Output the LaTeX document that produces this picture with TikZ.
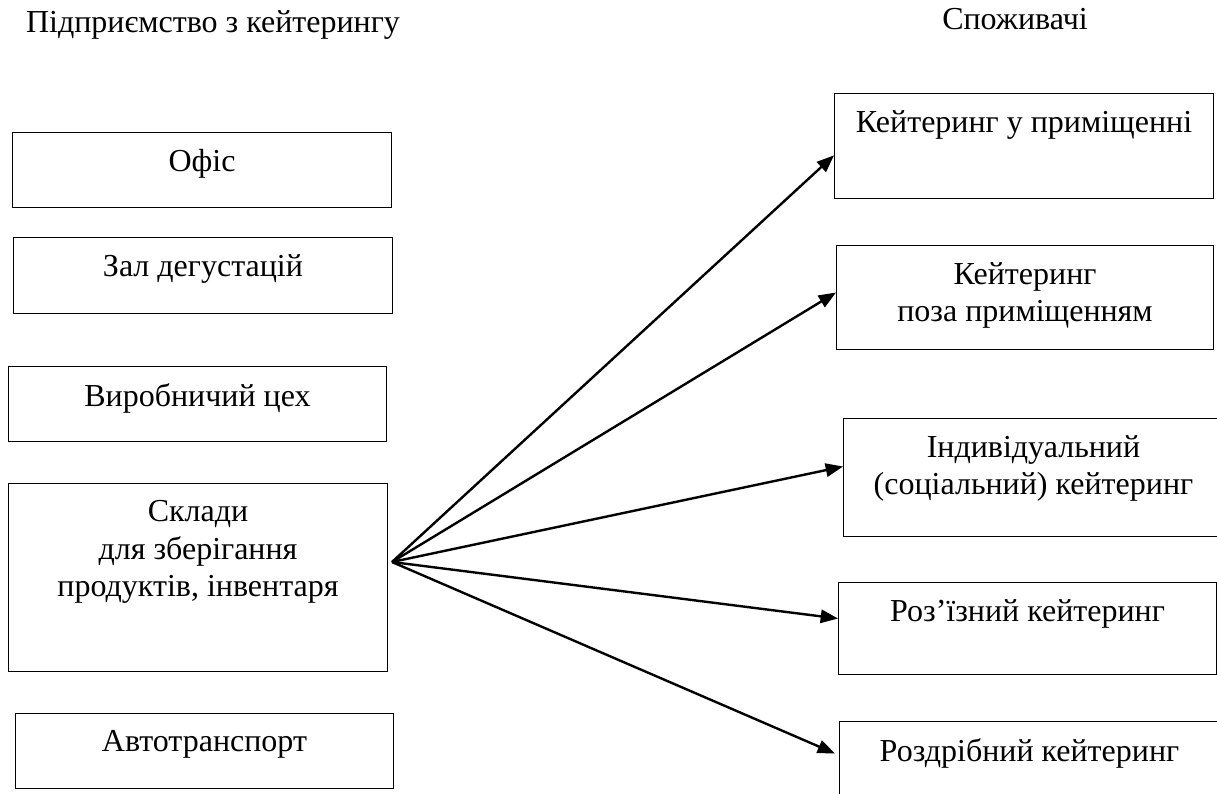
\documentclass[tikz,border=0pt]{standalone}
\usepackage{fontspec}
\setmainfont{Liberation Serif}
\usetikzlibrary{arrows.meta}
\tikzset{
	box/.style={draw, line width=0.75pt, anchor=north west, inner sep=0pt},
	lbl/.style={anchor=north, yshift=-13pt, inner sep=0pt, align=center, font=\fontsize{24}{28}\selectfont},
	title/.style={anchor=base, inner sep=0pt, font=\fontsize{24}{28}\selectfont},
	arr/.style={line width=1.8pt, -{Triangle[length=13pt,width=10pt]}}
}
\begin{document}
\begin{tikzpicture}[x=0.75pt,y=-0.75pt]
			\useasboundingbox (0,0) rectangle (1217,793);
			{\node[title] (firma) at (213,32) {Підприємство з кейтерингу};}
			{\node[title] (spozh) at (1015,29) {Споживачі};}
			% left column
			{\node[box, minimum width=284.25pt, minimum height=56.25pt, label={[lbl]north:Офіс}] (offis) at (12,132) {};}
			{\node[box, minimum width=284.25pt, minimum height=57pt, label={[lbl]north:Зал дегустацій}] (zal) at (13,237) {};}
			{\node[box, minimum width=283.5pt, minimum height=56.25pt, label={[lbl]north:Виробничий цех}] (tsekh) at (8,366) {};}
			{\node[box, minimum width=284.25pt, minimum height=141pt, label={[lbl]north:Склади\\для зберігання\\продуктів, інвентаря}] (sklady) at (8,483) {};}
			{\node[box, minimum width=283.5pt, minimum height=56.25pt, label={[lbl]north:Автотранспорт}] (avto) at (15,713) {};}
			% right column
			{\node[box, minimum width=284.25pt, minimum height=78.75pt, label={[lbl]north:Кейтеринг у приміщенні}] (vprym) at (834,93) {};}
			{\node[box, minimum width=282.75pt, minimum height=78pt, label={[lbl]north:Кейтеринг\\поза приміщенням}] (pozaprym) at (836,245) {};}
			{\node[box, minimum width=285pt, minimum height=88.5pt, label={[lbl]north:Індивідуальний\\(соціальний) кейтеринг}] (indyv) at (843,418) {};}
			{\node[box, minimum width=283.5pt, minimum height=69pt, label={[lbl]north:Роз’їзний кейтеринг}] (rozizn) at (838,582) {};}
			{\node[box, minimum width=285pt, minimum height=60pt, label={[lbl]north:Роздрібний кейтеринг}] (rozdrib) at (839,721) {};}
			% arrows
			{\coordinate (hub) at (392,562);}
			{\draw[arr] (hub) -- ([yshift=-7pt]vprym.west);}
			{\draw[arr] (hub) -- ([yshift=3.75pt]pozaprym.west);}
			{\draw[arr] (hub) -- ([yshift=8.25pt]indyv.west);}
			{\draw[arr] (hub) -- ([yshift=7.5pt]rozizn.west);}
			{\draw[arr] (hub) -- ([xshift=-3pt,yshift=6pt]rozdrib.west);}
		\end{tikzpicture}
\end{document}
